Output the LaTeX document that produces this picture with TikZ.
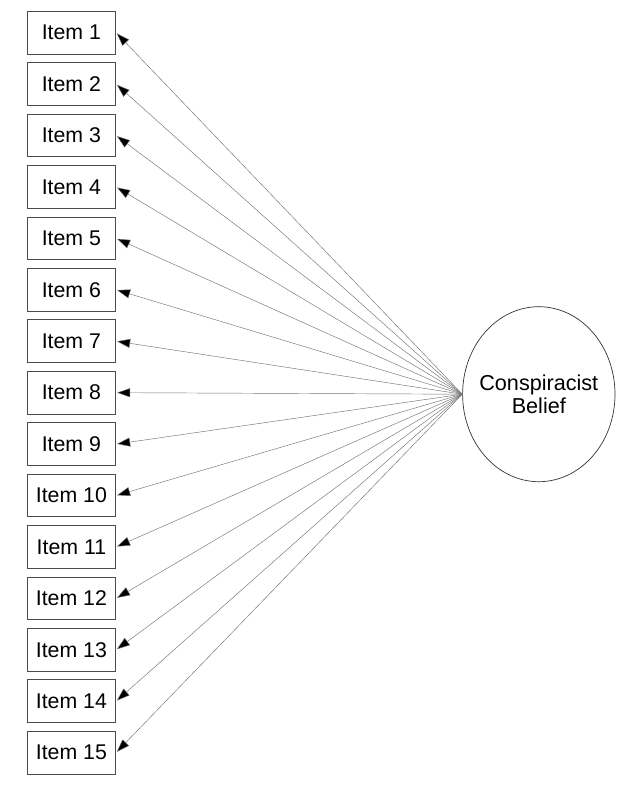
\documentclass[tikz,border=0pt]{standalone}
\usepackage{fontspec}
\setmainfont{Liberation Sans}
\usetikzlibrary{arrows.meta,shapes.geometric}
\begin{document}
\begin{tikzpicture}[x=1pt,y=-1pt,
  itembox/.style={draw=black!70,line width=0.9pt,minimum width=88.5pt,minimum height=42.7pt,inner sep=0pt,font=\fontsize{21.3}{23}\selectfont},
  latent/.style={draw=black!80,line width=0.7pt,ellipse,minimum width=152.4pt,minimum height=175pt,inner sep=0pt},
  latenttext/.style={align=center,inner sep=0pt,font=\fontsize{21.6}{23.4}\selectfont},
  loading/.style={draw=black!55,line width=0.45pt,-{Triangle[length=13pt,width=9pt,fill=black]},shorten >=1pt}]
\useasboundingbox (0,0) rectangle (631,802);
\node[latent] (f) at (538.8,394.2) {};
\node[latenttext] (ft) at (f.center) {Conspiracist\\Belief};
\foreach \i in {1,...,15}{
  \node[itembox] (i\i) at (71.4,{32.65+51.43*(\i-1)}) {Item \i};
  \draw[loading] (f.west) -- (i\i.east);
}
\end{tikzpicture}
\end{document}
